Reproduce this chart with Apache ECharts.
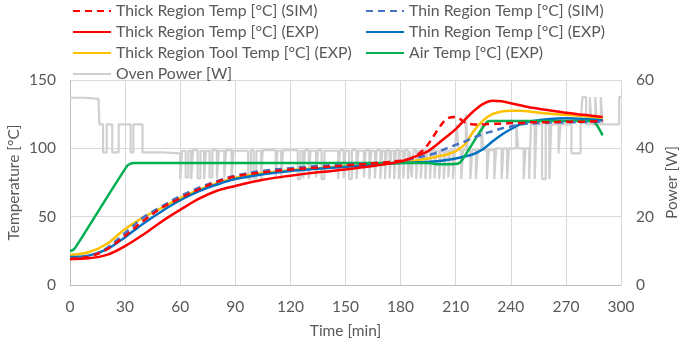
<!DOCTYPE html>
<html>
<head>
<meta charset="utf-8">
<script src="https://cdn.jsdelivr.net/npm/echarts@6/dist/echarts.min.js"></script>
<style>
  html, body { margin: 0; padding: 0; background: #fff; }
  #chart { width: 685px; height: 345px; }
</style>
</head>
<body>
<div id="chart"></div>
<script>
// time points for the temperature curves [min]
var tTemp = [0, 10, 20, 30, 40, 50, 60, 70, 80, 90, 105, 120, 135, 150, 165, 180, 185, 190, 195, 200, 205, 210, 215, 220, 225, 230, 235, 240, 245, 250, 260, 270, 280, 290];

var thickSim = [19, 20.5, 26, 36, 47, 56.5, 63.5, 70, 75.5, 79.5, 82.5, 84.5, 86, 87.5, 89, 91, 92.5, 96, 103, 113, 121.5, 123, 119, 117.5, 117.5, 118, 118, 118.5, 118.5, 119, 119, 119.5, 119.5, 120];
var thickExp = [19, 19.5, 22, 28.5, 37, 46.5, 55, 63, 69, 72.5, 77, 80, 82.5, 84.5, 87, 90.3, 92.5, 95, 98, 103, 108.5, 114, 121, 127.5, 132.5, 134.8, 134.5, 133, 131.5, 130, 128, 126, 124.5, 123];
var toolExp  = [22, 24, 30, 41, 49.5, 56.5, 63.5, 69.5, 74.5, 78.5, 82, 84, 85.5, 87, 88, 89.5, 90.5, 91.5, 92.5, 94, 95.5, 98, 103, 113, 120.5, 125, 127, 127.5, 127.5, 127, 125.5, 124.5, 123.5, 122];
var thinSim  = [19.5, 21, 27, 38, 49.5, 57.5, 65, 71, 76, 80, 83.5, 85.5, 87, 88, 89, 90.5, 92, 93.5, 95, 97, 100, 102.5, 105, 108, 110.5, 112.5, 114.5, 116, 117.3, 118, 118.8, 119, 119.2, 119.5];
var thinExp  = [20.5, 21.5, 26, 35, 45, 54, 62, 68.5, 73.5, 77.5, 81, 83.5, 85, 86.5, 88, 89.3, 89.5, 89.8, 90, 90.5, 91.5, 92.5, 94, 96, 99.5, 105, 110, 114, 117.5, 119.5, 121.2, 122, 121.5, 120.5];

// air temperature
var tAir = [0, 1.5, 3, 31, 33, 35, 195, 201, 211, 213, 227, 229, 284, 286, 290];
var airExp = [25, 25.5, 27.5, 87, 88.8, 89.2, 89.2, 88.3, 88.8, 90.5, 119.3, 120, 120, 118.5, 109.5];

// oven power: value holds from each time until the next one
var powerT = [
  0, 8, 15.5, 16, 18, 20, 23, 26.5, 33, 34.5, 39.5, 50,
  60, 61, 63, 64.5, 66, 67, 69.5, 71, 73, 74, 76, 77.5, 80, 81, 84, 85, 88, 89,
  97, 98.5, 100, 101.5, 104, 105, 112, 113, 115, 116, 124, 125.5, 127, 128, 130, 131, 134, 135, 137, 138.5,
  146, 147, 149, 150, 152, 153.5, 156, 157, 160, 161, 163, 164, 166, 167, 169, 170, 171.5, 172.5, 174, 175, 176.5, 177.5, 179, 180,
  181.5, 182.5, 184, 185, 186, 187, 188.5, 189.5, 191, 192, 193.5, 194.5, 196, 197, 198.5, 199.5, 201, 202, 203.5, 204.5, 206, 207, 208.5, 209.5,
  210.5, 211.5, 213, 214, 215.5, 216.5, 218, 219, 221, 222, 224, 225, 227, 228, 231, 232, 235, 236, 238, 239,
  243, 244, 247, 248, 250, 251, 253, 254, 257, 259, 261, 262, 266, 267, 273, 278, 279, 281, 283, 284, 286, 287, 289, 290, 299, 300
];
var powerW = [
  54.8, 54.5, 54.2, 47, 38.8, 47, 38.8, 47, 38.8, 47, 38.8, 38.5,
  31, 39.3, 31.5, 39.3, 31, 39.5, 31.2, 39.3, 31, 39.3, 31.5, 39.5, 31, 39.3, 31.2, 39.5, 31, 39.3,
  31, 39.5, 31.2, 39.3, 31, 39.5, 31.5, 39.3, 31, 39.5, 31, 39.3, 31.2, 39.5, 31, 39.3, 31.5, 39.5, 31, 39.3,
  31, 39.5, 31.2, 39.3, 31, 39.5, 31, 39.3, 31.5, 39.5, 31, 39.3, 31.2, 39.5, 31, 39.3, 31, 39.5, 31.2, 39.3, 31, 39.5, 31, 39.3,
  31.2, 39.5, 31, 39.3, 31.5, 39.5, 31, 39.3, 31.2, 39.5, 31, 39.3, 31, 39.5, 31.2, 39.3, 31, 39.5, 31, 39.3, 31.5, 39.5, 31, 39.3,
  47, 39.5, 31, 39.5, 50, 39.5, 31, 39.5, 31, 39.5, 47.5, 39.5, 31, 39.5, 31, 40, 31, 40, 31, 40,
  47, 40, 31, 40, 31, 47, 31, 47, 31, 47, 31, 47, 38.5, 47, 38.5, 47, 55, 47, 55, 47, 55, 47, 55, 47, 55, 55
];

function pairs(xs, ys) {
  return xs.map(function (x, i) { return [x, ys[i]]; });
}

var txt = "#595959";
var font = "Lato";
var chart = echarts.init(document.getElementById("chart"));

function tempLine(name, xs, ys, color, dashed, z) {
  return {
    name: name,
    type: "line",
    yAxisIndex: 0,
    data: pairs(xs, ys),
    symbol: "none",
    smooth: 0.35,
    z: z,
    lineStyle: { color: color, width: 2.5, type: dashed ? [7, 5] : "solid" },
    itemStyle: { color: color }
  };
}

var legendText = { color: txt, fontSize: 15.8, fontFamily: font };

chart.setOption({
  animation: false,
  textStyle: { fontFamily: font },
  legend: [
    {
      left: 72, top: 3, orient: "vertical", padding: 0,
      itemWidth: 38, itemHeight: 14, itemGap: 5,
      itemStyle: { opacity: 0 },
      textStyle: legendText,
      data: ["Thick Region Temp [°C] (SIM)", "Thick Region Temp [°C] (EXP)", "Thick Region Tool Temp [°C] (EXP)", "Oven Power [W]"]
    },
    {
      left: 365, top: 3, orient: "vertical", padding: 0,
      itemWidth: 38, itemHeight: 14, itemGap: 5,
      itemStyle: { opacity: 0 },
      textStyle: legendText,
      data: ["Thin Region Temp [°C] (SIM)", "Thin Region Temp [°C] (EXP)", "Air Temp [°C] (EXP)"]
    }
  ],
  grid: { left: 70, right: 64, top: 80, bottom: 60, outerBoundsMode: "none", containLabel: false },
  xAxis: {
    type: "value", min: 0, max: 300, interval: 30,
    name: "Time [min]", nameLocation: "middle", nameGap: 38, nameMoveOverlap: false,
    nameTextStyle: { color: txt, fontSize: 15.5, fontFamily: font },
    axisLine: { lineStyle: { color: "#bfbfbf" } },
    axisTick: { show: false },
    axisLabel: { color: txt, fontSize: 15.5, margin: 14 },
    splitLine: { lineStyle: { color: "#d9d9d9" } }
  },
  yAxis: [
    {
      type: "value", min: 0, max: 150, interval: 50,
      name: "Temperature [°C]", nameLocation: "middle", nameGap: 48, nameMoveOverlap: false,
      nameTextStyle: { color: txt, fontSize: 15.5, fontFamily: font },
      axisLine: { show: true, lineStyle: { color: "#bfbfbf" } },
      axisTick: { show: false },
      axisLabel: { color: txt, fontSize: 15.5, margin: 14 },
      splitLine: { lineStyle: { color: "#d9d9d9" } }
    },
    {
      type: "value", min: 0, max: 60, interval: 20, position: "right",
      name: "Power [W]", nameLocation: "middle", nameGap: 43, nameMoveOverlap: false,
      nameTextStyle: { color: txt, fontSize: 15.5, fontFamily: font },
      axisLine: { show: false },
      axisTick: { show: false },
      axisLabel: { color: txt, fontSize: 15.5, margin: 15 },
      splitLine: { show: false }
    }
  ],
  series: [
    {
      name: "Oven Power [W]",
      type: "line",
      yAxisIndex: 1,
      step: "end",
      data: pairs(powerT, powerW),
      symbol: "none",
      z: 1,
      lineStyle: { color: "#d0d0d0", width: 2.2 },
      itemStyle: { color: "#d0d0d0" }
    },
    tempLine("Thick Region Tool Temp [°C] (EXP)", tTemp, toolExp, "#ffc000", false, 2),
    tempLine("Thin Region Temp [°C] (EXP)", tTemp, thinExp, "#0070c0", false, 3),
    tempLine("Air Temp [°C] (EXP)", tAir, airExp, "#00b050", false, 4),
    tempLine("Thin Region Temp [°C] (SIM)", tTemp, thinSim, "#4472c4", true, 5),
    tempLine("Thick Region Temp [°C] (SIM)", tTemp, thickSim, "#ff0000", true, 6),
    tempLine("Thick Region Temp [°C] (EXP)", tTemp, thickExp, "#ff0000", false, 7)
  ]
});
</script>
</body>
</html>
